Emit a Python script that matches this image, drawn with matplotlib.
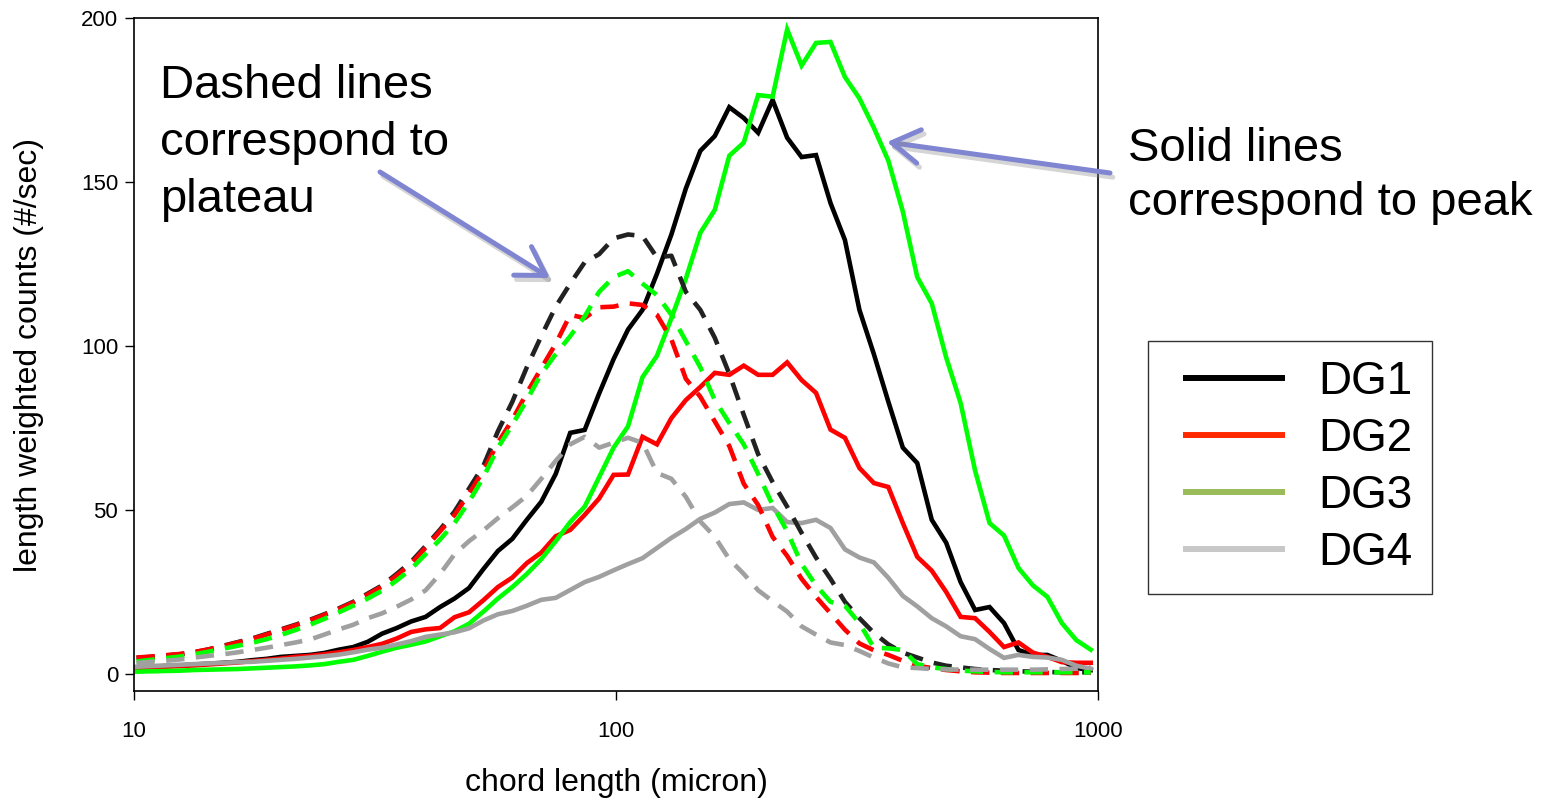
import matplotlib
matplotlib.use("Agg")
import matplotlib.pyplot as plt
import matplotlib.patheffects as pe
from matplotlib.lines import Line2D
from matplotlib.legend_handler import HandlerLine2D
from matplotlib.ticker import FixedLocator, FixedFormatter, NullLocator

plt.rcParams['font.family'] = ['Liberation Sans', 'DejaVu Sans']

# chord length bin centres (micron)
chord = [10.12, 10.84, 11.61, 12.45, 13.34, 14.29, 15.31, 16.41, 17.58, 18.84,
         20.18, 21.63, 23.17, 24.83, 26.61, 28.51, 30.55, 32.73, 35.08, 37.58,
         40.27, 43.15, 46.24, 49.55, 53.09, 56.89, 60.95, 65.31, 69.98, 74.99,
         80.35, 86.10, 92.26, 98.86, 105.9, 113.5, 121.6, 130.3, 139.6, 149.6,
         160.3, 171.8, 184.1, 197.2, 211.3, 226.5, 242.7, 260.0, 278.6, 298.5,
         319.9, 342.8, 367.3, 393.6, 421.7, 451.9, 484.2, 518.8, 555.9, 595.7,
         638.3, 683.9, 732.8, 785.2, 841.4, 901.6, 966.1]

# solid lines = peak
dg1_peak = [2.0, 2.2, 2.4, 2.6, 2.9, 3.1, 3.4, 3.7, 4.2, 4.6,
            5.2, 5.5, 5.8, 6.4, 7.4, 8.2, 9.8, 12.3, 14.0, 16.0,
            17.4, 20.4, 23.0, 26.2, 32.0, 37.5, 41.2, 47.0, 52.5, 61.0,
            73.5, 74.4, 85.5, 96.0, 105.0, 111.0, 122.0, 134.0, 148.0, 159.5,
            164.0, 172.8, 169.5, 165.0, 175.0, 163.5, 157.6, 158.2, 143.6, 132.3,
            111.0, 97.5, 83.0, 69.0, 64.3, 47.0, 40.0, 28.0, 19.5, 20.4,
            15.5, 7.3, 5.8, 5.8, 4.0, 1.8, 1.2]
dg2_peak = [1.8, 2.0, 2.2, 2.4, 2.6, 2.9, 3.2, 3.5, 3.9, 4.3,
            4.7, 5.2, 5.5, 6.0, 6.6, 7.3, 8.2, 9.2, 10.8, 12.8,
            13.6, 14.0, 17.3, 18.8, 22.5, 26.5, 29.4, 33.8, 37.0, 42.0,
            43.9, 48.5, 53.5, 60.7, 60.8, 72.3, 70.0, 78.0, 83.5, 87.5,
            91.8, 91.2, 94.0, 91.2, 91.2, 95.0, 89.6, 85.7, 74.5, 72.0,
            62.8, 58.2, 57.0, 46.0, 35.7, 31.5, 25.0, 17.4, 17.0, 12.8,
            8.2, 9.6, 6.5, 5.2, 3.6, 3.4, 3.4]
dg3_peak = [0.7, 0.8, 0.9, 1.0, 1.2, 1.3, 1.4, 1.5, 1.7, 1.9,
            2.1, 2.3, 2.6, 3.0, 3.7, 4.3, 5.5, 6.8, 8.0, 8.9,
            9.9, 11.5, 13.0, 15.3, 19.0, 23.0, 26.5, 30.5, 35.0, 40.5,
            46.3, 51.0, 60.0, 69.0, 75.5, 90.5, 97.0, 108.5, 120.5, 134.5,
            141.5, 158.0, 162.0, 176.5, 176.0, 196.5, 185.5, 192.4, 192.7, 182.0,
            175.5, 166.5, 156.5, 141.0, 121.0, 113.0, 96.5, 82.6, 62.0, 46.0,
            42.2, 32.3, 27.0, 23.5, 15.5, 10.3, 7.4]
dg4_peak = [2.2, 2.4, 2.6, 2.8, 3.0, 3.2, 3.4, 3.6, 3.7, 4.0,
            4.3, 4.6, 5.0, 5.4, 5.9, 6.6, 7.4, 8.0, 9.0, 10.0,
            11.3, 12.0, 12.7, 13.9, 16.3, 18.2, 19.2, 20.8, 22.6, 23.2,
            25.6, 28.0, 29.6, 31.6, 33.5, 35.3, 38.4, 41.5, 44.2, 47.3,
            49.2, 51.8, 52.3, 50.0, 50.6, 46.3, 46.0, 47.0, 44.5, 38.0,
            35.5, 34.0, 29.3, 23.8, 20.6, 17.0, 14.5, 11.5, 10.6, 7.6,
            4.9, 5.8, 5.2, 5.0, 4.3, 2.5, 1.6]

# dashed lines = plateau
dg1_plat = [4.9, 5.2, 5.6, 6.0, 6.6, 7.5, 8.6, 9.7, 10.8, 12.2,
            13.6, 15.0, 16.5, 18.2, 20.0, 22.0, 24.5, 27.0, 30.5, 34.2,
            39.0, 44.0, 49.5, 56.5, 63.5, 74.0, 83.0, 93.5, 103.0, 112.0,
            119.0, 125.5, 128.0, 132.8, 134.0, 133.5, 127.0, 127.5, 116.5, 111.0,
            102.5, 91.5, 79.0, 67.0, 58.5, 51.0, 43.0, 35.5, 29.0, 22.0,
            17.0, 12.5, 9.0, 6.5, 5.0, 3.5, 2.5, 2.0, 1.5, 1.2,
            1.0, 0.8, 0.7, 0.6, 0.5, 0.5, 0.5]
dg2_plat = [5.0, 5.3, 5.7, 6.1, 6.7, 7.5, 8.5, 9.6, 10.7, 12.0,
            13.4, 14.8, 16.3, 18.0, 19.8, 21.8, 24.2, 26.7, 30.0, 33.6,
            38.5, 43.5, 48.5, 55.0, 62.0, 70.5, 77.5, 85.7, 93.2, 100.7,
            109.5, 108.5, 111.8, 112.0, 113.0, 112.5, 109.5, 102.0, 90.0, 84.5,
            77.0, 69.5, 58.0, 51.5, 41.8, 36.0, 29.0, 23.5, 18.5, 13.5,
            9.3, 7.2, 5.8, 4.0, 2.5, 1.8, 1.2, 0.8, 0.5, 0.4,
            0.3, 0.3, 0.3, 0.3, 0.3, 0.3, 0.3]
dg3_plat = [3.8, 4.3, 4.8, 5.3, 6.0, 6.8, 7.7, 8.6, 9.5, 10.6,
            11.9, 13.4, 15.0, 16.8, 18.8, 20.8, 23.0, 25.4, 28.5, 32.0,
            36.5, 41.0, 46.0, 52.5, 60.0, 69.0, 76.0, 83.5, 91.5, 97.5,
            103.0, 109.0, 116.5, 121.0, 122.8, 119.0, 115.5, 109.5, 101.5, 93.5,
            83.5, 76.5, 70.0, 61.0, 51.5, 43.5, 33.5, 27.0, 22.0, 20.8,
            15.5, 8.0, 7.8, 7.3, 3.0, 2.0, 1.5, 1.0, 0.8, 0.6,
            0.5, 0.5, 0.5, 0.5, 0.5, 0.5, 0.5]
dg4_plat = [3.3, 3.7, 4.0, 4.4, 5.0, 5.5, 6.0, 6.6, 7.3, 8.0,
            8.8, 9.6, 10.5, 12.0, 13.6, 15.0, 17.0, 18.5, 20.5, 22.7,
            25.5, 30.5, 36.5, 40.5, 43.8, 47.5, 50.8, 54.3, 59.5, 65.0,
            70.0, 72.3, 69.0, 70.5, 72.0, 70.5, 61.3, 59.5, 54.0, 46.5,
            41.8, 35.0, 30.5, 25.5, 22.2, 19.0, 14.5, 12.0, 9.6, 8.8,
            7.0, 5.0, 3.2, 2.0, 1.8, 1.5, 1.4, 1.3, 1.3, 1.3,
            1.3, 1.3, 1.3, 1.4, 1.5, 1.6, 2.0]

labels = ['DG1', 'DG2', 'DG3', 'DG4']
line_colors = ['#000000', '#FF0000', '#00FF00', '#A0A0A0']
dash_colors = ['#222222', '#FF0000', '#00FF00', '#A0A0A0']
legend_colors = ['#000000', '#FF2A00', '#9BBB59', '#C8C8C8']

fig = plt.figure(figsize=(15.55, 8.05), dpi=100)
ax = fig.add_axes([134 / 1555, 1 - 691 / 805, 964 / 1555, 673 / 805])

lw = 3.3
for y, c in zip([dg1_peak, dg2_peak, dg3_peak, dg4_peak], line_colors):
    ax.plot(chord, y, color=c, lw=lw, solid_joinstyle='miter')
for y, c in zip([dg1_plat, dg2_plat, dg3_plat, dg4_plat], dash_colors):
    ax.plot(chord, y, color=c, lw=lw, linestyle=(0, (4.0, 2.5)))

ax.set_xscale('log')
ax.set_xlim(10, 1000)
ax.set_ylim(-5.2, 200)
ax.xaxis.set_major_locator(FixedLocator([10, 100, 1000]))
ax.xaxis.set_major_formatter(FixedFormatter(['10', '100', '1000']))
ax.xaxis.set_minor_locator(NullLocator())
ax.set_yticks([0, 50, 100, 150, 200])
ax.tick_params(axis='x', direction='out', length=6.5, width=1, labelsize=16, pad=15)
ax.tick_params(axis='y', direction='out', length=6.5, width=1, labelsize=16, pad=5)
for s in ax.spines.values():
    s.set_linewidth(1.2)

ax.set_xlabel('chord length (micron)', fontsize=23)
ax.set_ylabel('length weighted counts (#/sec)', fontsize=23)
ax.xaxis.set_label_coords(0.5, -(768 - 691) / 673)
ax.yaxis.set_label_coords(-(134 - 44) / 964, 0.5)

# annotations
fig.text(160 / 1555, 1 - 64 / 805, 'Dashed lines\ncorrespond to\nplateau',
         fontsize=34, va='top', ha='left', linespacing=1.38)
fig.text(1128 / 1555, 1 - 127 / 805, 'Solid lines\ncorrespond to peak',
         fontsize=34, va='top', ha='left', linespacing=1.3)

arrow_color = '#8085D2'
shadow = [pe.SimpleLineShadow(offset=(2, -3), shadow_color='#888888', alpha=0.35),
          pe.Normal()]
for start, tip in [((380, 805 - 172), (550, 805 - 278)),
                   ((1110, 805 - 173), (887, 805 - 142))]:
    ax.annotate('', xy=tip, xytext=start, xycoords='figure pixels',
                textcoords='figure pixels', annotation_clip=False,
                arrowprops=dict(arrowstyle='->,head_length=0.9,head_width=0.55',
                                color=arrow_color, lw=3.6, mutation_scale=22,
                                shrinkA=0, shrinkB=0, path_effects=shadow))

handles = [Line2D([], [], color=c, lw=4.3) for c in legend_colors]
leg = ax.legend(handles, labels, loc='upper left',
                bbox_to_anchor=(1148 / 1555, 1 - 341 / 805),
                bbox_transform=fig.transFigure, borderaxespad=0,
                fontsize=33, frameon=True, fancybox=False, edgecolor='black',
                borderpad=0.42, labelspacing=0.28, handlelength=2.5,
                handletextpad=0.8,
                handler_map={Line2D: HandlerLine2D(xpad=0.4)})
leg.get_frame().set_linewidth(1.0)

fig.savefig('out.png', dpi=100)
